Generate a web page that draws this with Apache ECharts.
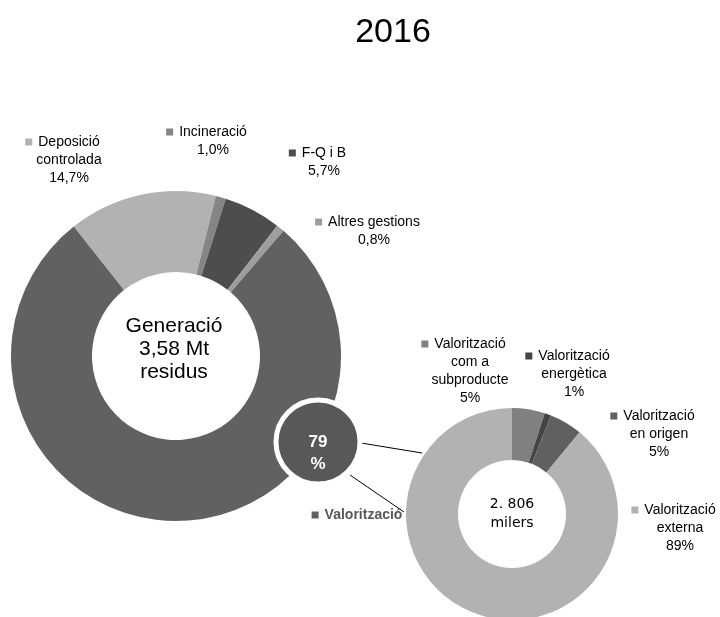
<!DOCTYPE html>
<html>
<head>
<meta charset="utf-8">
<script src="https://cdn.jsdelivr.net/npm/echarts@6/dist/echarts.min.js"></script>
<style>
html, body { margin: 0; padding: 0; background: #fff; }
#main { width: 720px; height: 617px; }
</style>
</head>
<body>
<div id="main"></div>
<script>
// dades
var titleText = '2016';
var bigNames = ['Deposició\ncontrolada', 'Incineració', 'F-Q i B', 'Altres gestions', 'Valorització'];
var bigValues = [14.7, 1.0, 5.7, 0.8, 79];
var bigColors = ['#b2b2b2', '#858585', '#4d4d4d', '#9e9e9e', '#616161'];
var bigCenterText = 'Generació\n3,58 Mt\nresidus';

var smallNames = ['Valorització\ncom a\nsubproducte', 'Valorització\nenergètica', 'Valorització\nen origen', 'Valorització\nexterna'];
var smallValues = [5, 1, 5, 89];
var smallColors = ['#808080', '#454545', '#606060', '#b2b2b2'];
var smallCenterText = '2. 806\nmilers';

var bubbleValue = 79;

// posicions de les etiquetes (centre del text)
var bigLabelPos = [[69, 160], [213, 141], [324, 162], [374, 231], [357, 515]];
var smallLabelPos = [[470, 371], [574, 374], [659, 434], [680, 528]];

var FONT = 'Liberation Sans, Arial, sans-serif';
var chart = echarts.init(document.getElementById('main'));

function richFor(colors) {
  var rich = {
    g: { width: 6 },
    sp: { width: 13 },
    vb: { fontWeight: 'bold', color: '#595959', fontSize: 14, fontFamily: FONT }
  };
  colors.forEach(function (c, i) {
    rich['m' + i] = { width: 7, height: 7, backgroundColor: c };
  });
  return rich;
}

function items(names, values, colors) {
  return names.map(function (n, i) {
    return { name: n, value: values[i], itemStyle: { color: colors[i] } };
  });
}

var option = {
  animation: false,
  backgroundColor: '#fff',
  graphic: [
    {
      type: 'text', x: 393, y: 33,
      style: { text: titleText, fontSize: 34, fontFamily: FONT, fill: '#000', align: 'center', verticalAlign: 'middle' }
    },
    {
      type: 'text', x: 174, y: 349, z: 10,
      style: { text: bigCenterText, fontSize: 21, lineHeight: 23, fontFamily: FONT, fill: '#000', align: 'center', verticalAlign: 'middle' }
    },
    {
      type: 'text', x: 512, y: 514, z: 10,
      style: { text: smallCenterText, fontSize: 14, lineHeight: 19, fontFamily: 'DejaVu Sans, sans-serif', fill: '#000', align: 'center', verticalAlign: 'middle' }
    },
    { type: 'line', z: 1, shape: { x1: 361, y1: 443, x2: 422, y2: 453 }, style: { stroke: '#000', lineWidth: 1 } },
    { type: 'line', z: 1, shape: { x1: 350, y1: 475, x2: 404, y2: 512 }, style: { stroke: '#000', lineWidth: 1 } }
  ],
  series: [
    {
      name: 'Generació',
      type: 'pie',
      z: 3,
      center: [176, 356],
      radius: [84, 165],
      startAngle: 128.3,
      clockwise: true,
      avoidLabelOverlap: false,
      silent: true,
      label: {
        show: true,
        position: 'outside',
        fontSize: 14,
        lineHeight: 18,
        fontFamily: FONT,
        color: '#000',
        formatter: function (p) {
          var i = p.dataIndex;
          if (i === 4) return '{m4|}{g|}{vb|' + p.name + '}';
          var lines = p.name.split('\n');
          var pct = p.value.toFixed(1).replace('.', ',') + '%';
          return '{m' + i + '|}{g|}' + lines[0] + '{sp|}\n' + lines.slice(1).concat(pct).join('\n');
        },
        rich: richFor(bigColors)
      },
      labelLine: { show: false },
      labelLayout: function (p) {
        var pos = bigLabelPos[p.dataIndex];
        return { x: pos[0], y: pos[1], align: 'center', verticalAlign: 'middle' };
      },
      data: items(bigNames, bigValues, bigColors)
    },
    {
      name: 'Valorització',
      type: 'pie',
      center: [512, 514],
      radius: [54, 106],
      startAngle: 90,
      clockwise: true,
      avoidLabelOverlap: false,
      silent: true,
      label: {
        show: true,
        position: 'outside',
        fontSize: 14,
        lineHeight: 18,
        fontFamily: FONT,
        color: '#000',
        formatter: function (p) {
          var i = p.dataIndex;
          var lines = p.name.split('\n');
          return '{m' + i + '|}{g|}' + lines[0] + '{sp|}\n' + lines.slice(1).concat(p.value + '%').join('\n');
        },
        rich: richFor(smallColors)
      },
      labelLine: { show: false },
      labelLayout: function (p) {
        var pos = smallLabelPos[p.dataIndex];
        return { x: pos[0], y: pos[1], align: 'center', verticalAlign: 'middle' };
      },
      data: items(smallNames, smallValues, smallColors)
    },
    {
      name: 'bombolla',
      type: 'pie',
      z: 5,
      center: [318, 442],
      radius: [0, 42],
      silent: true,
      itemStyle: { color: '#585858', borderColor: '#fff', borderWidth: 5 },
      label: {
        show: true,
        position: 'center',
        formatter: '{c}\n%',
        color: '#fff',
        fontWeight: 'bold',
        fontSize: 17,
        lineHeight: 22,
        fontFamily: FONT
      },
      labelLayout: { dy: 11 },
      labelLine: { show: false },
      data: [{ name: 'Valorització', value: bubbleValue }]
    }
  ]
};

chart.setOption(option);
</script>
</body>
</html>
